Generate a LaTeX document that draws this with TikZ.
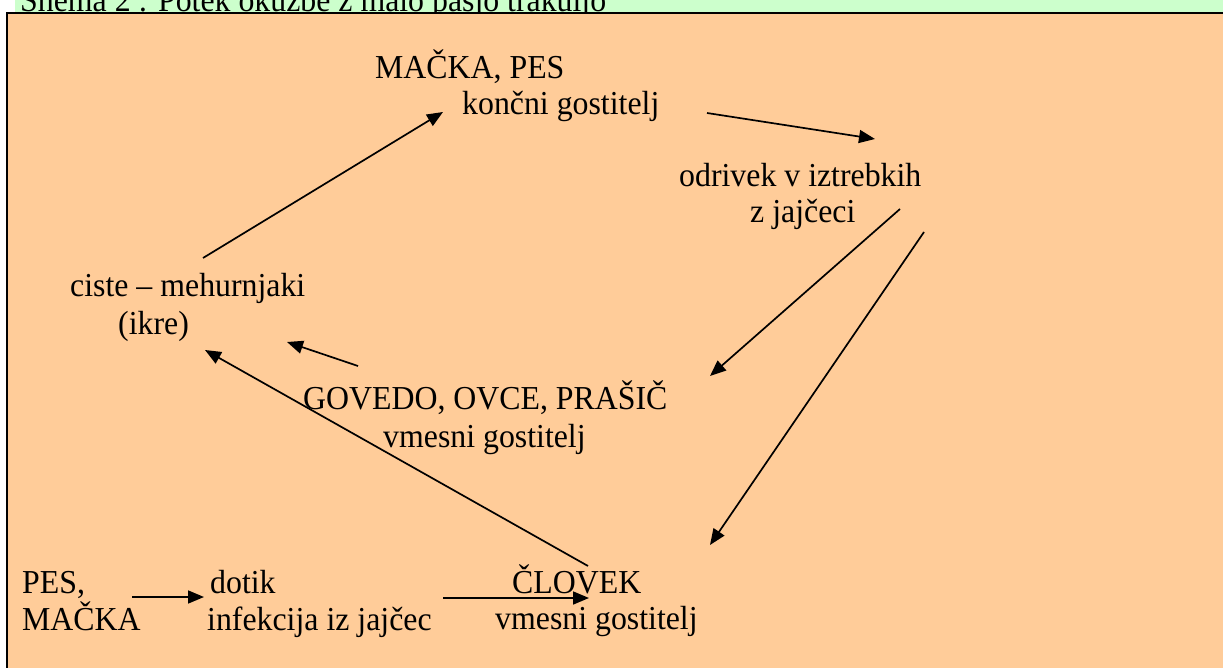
\documentclass[tikz,border=0pt]{standalone}
\usepackage{fontspec}
\setmainfont{Liberation Serif}[FakeStretch=0.95]
\usetikzlibrary{arrows.meta}
\definecolor{boxorange}{HTML}{FFCC99}
\definecolor{bannergreen}{HTML}{CCFFCC}
\begin{document}
\begin{tikzpicture}[x=1pt,y=-1pt,
  lbl/.style={anchor=base west,inner sep=0pt,font=\fontsize{33.5}{37}\selectfont},
  arr/.style={line width=1.7pt,-{Triangle[length=16pt,width=13pt]}}]
\useasboundingbox (0,0) rectangle (1223,668);
\clip (0,0) rectangle (1223,668);
\fill[white] (0,0) rectangle (1223,668);
\fill[bannergreen] (15,0) rectangle (1223,13);
\node[lbl] (title) at (20,12) {Shema 2 : Potek okužbe z malo pasjo trakuljo};
\filldraw[fill=boxorange,draw=black,line width=2.5pt] (7,13) rectangle (1240,690);

\node[lbl] (macka) at (375,79) {MAČKA, PES};
\node[lbl] (koncni) at (462,115) {končni gostitelj};
\node[lbl] (odrivek) at (679,187) {odrivek v iztrebkih};
\node[lbl] (zjajceci) at (750,223) {z jajčeci};
\node[lbl] (ciste) at (70,297) {ciste – mehurnjaki};
\node[lbl] (ikre) at (118,334) {(ikre)};
\node[lbl] (govedo) at (303,409) {GOVEDO, OVCE, PRAŠIČ};
\node[lbl] (vmesnia) at (383,447) {vmesni gostitelj};
\node[lbl] (pes) at (22,593) {PES,};
\node[lbl] (mackab) at (22,630) {MAČKA};
\node[lbl] (dotik) at (210,593) {dotik};
\node[lbl] (infekcija) at (207,630) {infekcija iz jajčec};
\node[lbl] (clovek) at (512,593) {ČLOVEK};
\node[lbl] (vmesnib) at (495,629) {vmesni gostitelj};

\coordinate (a1s) at (203,258); \coordinate (a1e) at (443,112);
\coordinate (a2s) at (707,113); \coordinate (a2e) at (875,139);
\coordinate (a3s) at (900,209); \coordinate (a3e) at (710,376);
\coordinate (a4s) at (924,232); \coordinate (a4e) at (710,545);
\coordinate (a5s) at (358,366); \coordinate (a5e) at (287,342);
\coordinate (a6s) at (588,566); \coordinate (a6e) at (205,350);
\coordinate (a7s) at (132,597); \coordinate (a7e) at (204,597);
\coordinate (a8s) at (443,598); \coordinate (a8e) at (589,598);

\draw[arr] (a1s) -- (a1e);
\draw[arr] (a2s) -- (a2e);
\draw[arr] (a3s) -- (a3e);
\draw[arr] (a4s) -- (a4e);
\draw[arr] (a5s) -- (a5e);
\draw[arr] (a6s) -- (a6e);
\draw[arr] (a7s) -- (a7e);
\draw[arr] (a8s) -- (a8e);
\end{tikzpicture}
\end{document}
